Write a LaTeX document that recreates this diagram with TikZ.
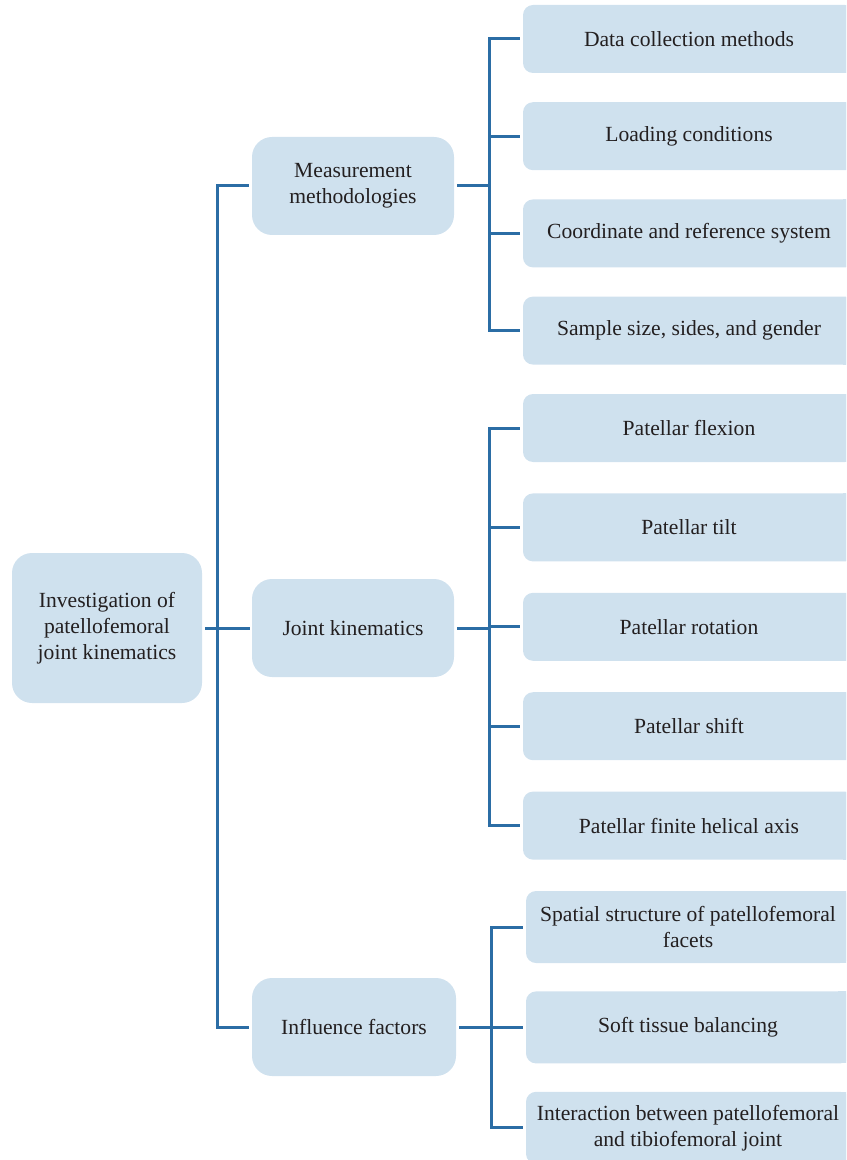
\documentclass[tikz,border=0pt]{standalone}
\usepackage{fontspec}
\setmainfont{Liberation Serif}
\usepackage{tikz}
\usetikzlibrary{positioning}
\definecolor{boxfill}{HTML}{CFE1EE}
\definecolor{linkblue}{HTML}{2B6DA5}
\definecolor{inkgray}{HTML}{231F20}
\tikzset{
  box/.style={fill=boxfill, text=inkgray, align=center, outer sep=0pt,
    font=\fontsize{10.8}{13}\selectfont, inner sep=2pt},
  rootbox/.style={box, rounded corners=10pt, minimum width=95pt, minimum height=75pt},
  midbox/.style={box, rounded corners=10pt, minimum width=101pt, minimum height=49pt},
  % right end runs past the page edge, so square it off
  leafbox/.style={box, rounded corners=5pt, minimum width=166pt, minimum height=34pt,
    append after command={\pgfextra{\let\leafnode=\tikzlastnode
      \fill[boxfill] ([xshift=-6pt]\leafnode.north east)
        rectangle ([xshift=8pt]\leafnode.south east);}}},
  link/.style={draw=linkblue, line width=1.5pt}
}
\begin{document}
\begin{tikzpicture}[x=0.5pt, y=-0.5pt]
    \clip (0,0) rectangle (846,1160);

    % root and first level
    \node[rootbox] (root) at (107,628) {Investigation of\\patellofemoral\\joint kinematics};
    \node[midbox] (meas) at (353,186) {Measurement\\methodologies};
    \node[midbox] (kin) at (353,628) {Joint kinematics};
    \node[midbox, minimum width=102pt] (infl) at (354,1027) {Influence factors};

    % measurement methodologies
    \node[leafbox] (data) at (689,39) {Data collection methods};
    \node[leafbox, below=14.6pt of data] (load) {Loading conditions};
    \node[leafbox, below=14.6pt of load] (coord) {Coordinate and reference system};
    \node[leafbox, below=14.6pt of coord] (sample) {Sample size, sides, and gender};

    % joint kinematics
    \node[leafbox] (flex) at (689,428) {Patellar flexion};
    \node[leafbox, below=15.7pt of flex] (tilt) {Patellar tilt};
    \node[leafbox, below=15.7pt of tilt] (rot) {Patellar rotation};
    \node[leafbox, below=15.7pt of rot] (shift) {Patellar shift};
    \node[leafbox, below=15.7pt of shift] (fha) {Patellar finite helical axis};

    % influence factors
    \node[leafbox, minimum width=162pt, minimum height=36pt] (spat) at (688,927)
      {Spatial structure of patellofemoral\\facets};
    \node[leafbox, minimum width=162pt, minimum height=36pt, below=14.2pt of spat] (soft)
      {Soft tissue balancing};
    \node[leafbox, minimum width=162pt, minimum height=36pt, below=14.2pt of soft] (inter)
      {Interaction between patellofemoral\\and tibiofemoral joint};

    % connectors
    \coordinate (trunk) at (217,628);
    \coordinate (bus1) at (489,186);
    \coordinate (bus2) at (489,628);
    \coordinate (bus3) at (491,1027);

    \draw[link, shorten <=1.5pt, shorten >=1pt] (root.east) -- (kin.west);
    \foreach \n in {meas,infl}
      \draw[link, shorten >=1.5pt] (trunk) |- (\n.west);

    \draw[link, shorten <=1.5pt] (meas.east) -- (bus1);
    \foreach \n in {data,load,coord,sample}
      \draw[link, shorten >=1.5pt] (bus1) |- (\n.west);

    \draw[link, shorten <=1.5pt] (kin.east) -- (bus2);
    \foreach \n in {flex,tilt,rot,shift,fha}
      \draw[link, shorten >=1.5pt] (bus2) |- (\n.west);

    \draw[link, shorten <=1.5pt] (infl.east) -- (bus3);
    \foreach \n in {spat,soft,inter}
      \draw[link, shorten >=1.5pt] (bus3) |- (\n.west);
\end{tikzpicture}
\end{document}
